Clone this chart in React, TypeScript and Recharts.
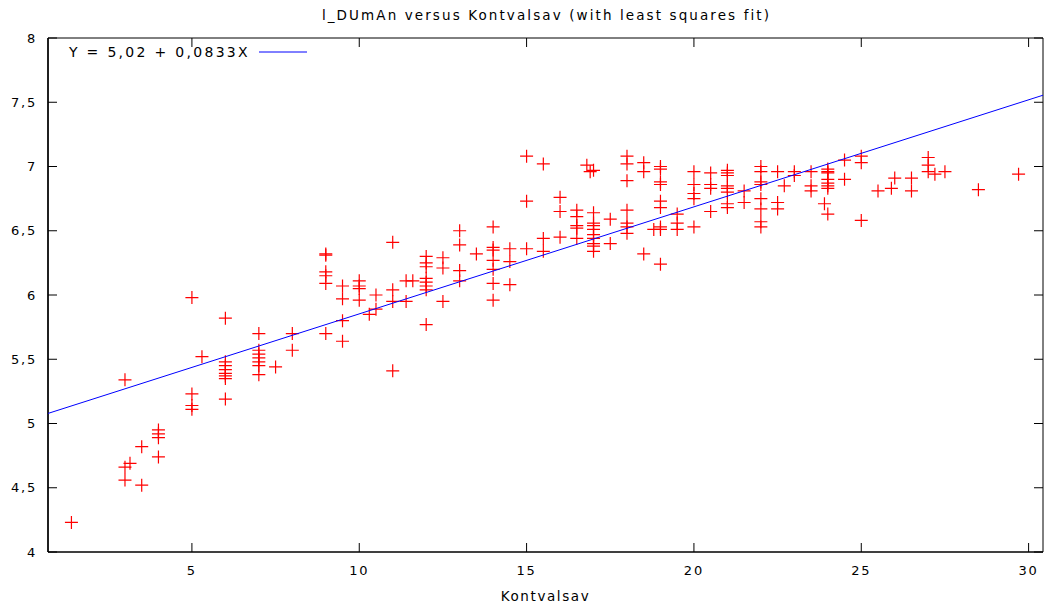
import React from 'react';
import { ScatterChart, Scatter, XAxis, YAxis, ReferenceArea } from 'recharts';

// Kontvalsav (x) and l_DUmAn (y), grouped by x column
const kontvalsav: number[] = [
  1.4,
  3, 3, 3, 3.15,
  3.5, 3.5,
  4, 4, 4, 4,
  5, 5, 5, 5, 5.3,
  6, 6, 6, 6, 6, 6, 6, 6,
  7, 7, 7, 7, 7, 7, 7, 7.5,
  8, 8,
  9, 9, 9, 9, 9, 9,
  9.5, 9.5, 9.5, 9.5,
  10, 10, 10, 10, 10.3, 10.5, 10.5,
  11, 11, 11, 11, 11.4, 11.4, 11.6,
  12, 12, 12, 12, 12, 12, 12, 12,
  12.5, 12.5, 12.5,
  13, 13, 13, 13, 13.5,
  14, 14, 14, 14, 14, 14, 14,
  14.5, 14.5, 14.5,
  15, 15, 15, 15.5, 15.5, 15.5,
  16, 16, 16,
  16.5, 16.5, 16.5, 16.5, 16.5, 16.8, 16.9,
  17, 17, 17, 17, 17, 17, 17, 17, 17, 17,
  17.5, 17.5,
  18, 18, 18, 18, 18, 18, 18,
  18.5, 18.5, 18.5, 18.8,
  19, 19, 19, 19, 19, 19, 19, 19, 19,
  19.5, 19.5, 19.5,
  20, 20, 20, 20, 20,
  20.5, 20.5, 20.5, 20.5,
  21, 21, 21, 21, 21, 21, 21, 21,
  21.5, 21.5,
  22, 22, 22, 22, 22, 22, 22, 22,
  22.5, 22.5, 22.5, 22.7,
  23, 23, 23.5, 23.5, 23.5, 23.9,
  24, 24, 24, 24, 24, 24, 24, 24,
  24.5, 24.5, 25, 25, 25,
  25.5, 25.9, 26, 26.5, 26.5,
  27, 27, 27, 27.2, 27.5,
  28.5, 29.7,
];

const lDUmAn: number[] = [
  4.23,
  5.34, 4.66, 4.56, 4.69,
  4.82, 4.52,
  4.95, 4.92, 4.89, 4.74,
  5.98, 5.23, 5.14, 5.11, 5.52,
  5.82, 5.48, 5.45, 5.42, 5.39, 5.37, 5.35, 5.19,
  5.70, 5.57, 5.54, 5.51, 5.48, 5.45, 5.38, 5.44,
  5.70, 5.57,
  6.31, 6.32, 6.18, 6.15, 6.09, 5.70,
  6.07, 5.97, 5.80, 5.64,
  6.11, 6.07, 6.05, 5.96, 5.85, 6.00, 5.89,
  6.41, 6.04, 5.95, 5.41, 6.11, 5.95, 6.11,
  6.30, 6.25, 6.22, 6.13, 6.10, 6.07, 6.04, 5.77,
  6.29, 6.21, 5.95,
  6.50, 6.39, 6.19, 6.11, 6.32,
  6.53, 6.37, 6.35, 6.27, 6.20, 6.09, 5.96,
  6.36, 6.26, 6.08,
  7.08, 6.73, 6.36, 7.02, 6.44, 6.34,
  6.76, 6.65, 6.45,
  6.66, 6.61, 6.54, 6.52, 6.44, 7.01, 6.96,
  6.97, 6.64, 6.56, 6.54, 6.51, 6.47, 6.44, 6.40, 6.38, 6.34,
  6.59, 6.40,
  7.08, 7.02, 6.89, 6.66, 6.56, 6.53, 6.48,
  7.03, 6.96, 6.32, 6.51,
  7.00, 6.98, 6.88, 6.86, 6.73, 6.68, 6.53, 6.51, 6.24,
  6.63, 6.56, 6.51,
  6.96, 6.86, 6.79, 6.75, 6.53,
  6.95, 6.86, 6.83, 6.65,
  6.97, 6.95, 6.93, 6.85, 6.83, 6.80, 6.71, 6.68,
  6.81, 6.72,
  7.00, 6.96, 6.88, 6.86, 6.75, 6.67, 6.57, 6.53,
  6.96, 6.72, 6.67, 6.85,
  6.96, 6.93, 6.96, 6.85, 6.81, 6.71,
  6.98, 6.96, 6.95, 6.90, 6.87, 6.85, 6.83, 6.63,
  7.05, 6.90, 7.08, 7.03, 6.58,
  6.81, 6.83, 6.91, 6.91, 6.81,
  7.07, 7.01, 6.96, 6.94, 6.96,
  6.82, 6.94,
];

const xTicks = [5, 10, 15, 20, 25, 30];
const yTicks = [4, 4.5, 5, 5.5, 6, 6.5, 7, 7.5, 8];
const xDomain: [number, number] = [0.7, 30.43];
const yDomain: [number, number] = [4, 8];
const fitIntercept = 5.02;
const fitSlope = 0.0833;

const titleText = 'l_DUmAn versus Kontvalsav (with least squares fit)';
const xLabelText = 'Kontvalsav';
const legendText = 'Y = 5,02 + 0,0833X';

const points = kontvalsav.map((x, i) => ({ x, y: lDUmAn[i] }));
const fitLine = xDomain.map((x) => ({ x, y: fitIntercept + fitSlope * x }));

// layout
const W = 1048;
const H = 608;
const PLOT_LEFT = 48;
const PLOT_RIGHT = 1043;
const PLOT_TOP = 38;
const PLOT_BOTTOM = 552;
const TICK_LEN = 9;

const FONT = '"DejaVu Sans", Verdana, sans-serif';
const comma = (v: number) => String(v).replace('.', ',');

const Cross = (props: any) => {
  const { cx, cy } = props;
  if (cx == null || cy == null) return <g />;
  return (
    <path
      d={`M${cx - 6.5},${cy}H${cx + 6.5}M${cx},${cy - 6.5}V${cy + 6.5}`}
      stroke="#ff0000"
      strokeWidth={1.2}
      fill="none"
    />
  );
};

const NoShape = () => <g />;

const XTick = (props: any) => {
  const { x, y, payload } = props;
  const cx = payload.coordinate;
  return (
    <g>
      <line x1={cx} x2={cx} y1={PLOT_BOTTOM} y2={PLOT_BOTTOM - TICK_LEN} stroke="#000" />
      <line x1={cx} x2={cx} y1={PLOT_TOP} y2={PLOT_TOP + TICK_LEN} stroke="#000" />
      <text x={x} y={y} dy="0.71em" textAnchor="middle" fontSize={13} fontFamily={FONT} letterSpacing={1.8} fill="#000">
        {comma(payload.value)}
      </text>
    </g>
  );
};

const YTick = (props: any) => {
  const { x, y, payload } = props;
  const cy = payload.coordinate;
  return (
    <g>
      <line x1={PLOT_LEFT} x2={PLOT_LEFT + TICK_LEN} y1={cy} y2={cy} stroke="#000" />
      <line x1={PLOT_RIGHT - TICK_LEN} x2={PLOT_RIGHT} y1={cy} y2={cy} stroke="#000" />
      <text x={x} y={y} dy="0.36em" textAnchor="end" fontSize={13} fontFamily={FONT} letterSpacing={1.8} fill="#000">
        {comma(payload.value)}
      </text>
    </g>
  );
};

export default function App() {
  return (
    <div style={{ position: 'absolute', left: 0, top: 0, width: W, height: H, background: '#fff', fontFamily: FONT }}>
      <div
        style={{
          position: 'absolute', left: 0, width: W, top: 7, textAlign: 'center',
          fontSize: 13.5, letterSpacing: 2.1, color: '#000', paddingLeft: 45, boxSizing: 'border-box', whiteSpace: 'pre',
        }}
      >
        {titleText}
      </div>
      <ScatterChart width={W} height={H} margin={{ top: PLOT_TOP, right: W - PLOT_RIGHT, bottom: 0, left: 0 }}>
        <XAxis
          dataKey="x"
          type="number"
          orientation="bottom"
          domain={xDomain}
          ticks={xTicks}
          allowDataOverflow
          height={H - PLOT_BOTTOM}
          tickSize={0}
          tickMargin={14}
          tick={<XTick />}
          tickLine={false}
          axisLine={{ stroke: '#000', strokeWidth: 1 }}
          label={{ value: xLabelText, position: 'insideBottom', offset: 7, style: { fontSize: 13.5, fill: '#000', fontFamily: FONT, letterSpacing: 1.6 } }}
        />
        <YAxis
          dataKey="y"
          type="number"
          orientation="left"
          domain={yDomain}
          ticks={yTicks}
          allowDataOverflow
          width={PLOT_LEFT}
          tickSize={0}
          tickMargin={11}
          tick={<YTick />}
          tickLine={false}
          axisLine={{ stroke: '#000', strokeWidth: 1.5 }}
        />
        <ReferenceArea
          x1={xDomain[0]}
          x2={xDomain[1]}
          y1={yDomain[0]}
          y2={yDomain[1]}
          fill="none"
          fillOpacity={0}
          stroke="#000"
          strokeWidth={1}
          ifOverflow="visible"
        />
        <Scatter
          data={points}
          shape={<Cross />}
          isAnimationActive={false}
        />
        <Scatter
          data={fitLine}
          line={{ stroke: '#0000ff', strokeWidth: 1 }}
          shape={<NoShape />}
          isAnimationActive={false}
        />
      </ScatterChart>
      <div style={{ position: 'absolute', left: 69, top: 44, fontSize: 14, lineHeight: '16px', letterSpacing: 2.3, color: '#000', whiteSpace: 'pre' }}>
        {legendText}
      </div>
      <svg width={60} height={16} style={{ position: 'absolute', left: 255, top: 44 }}>
        <line x1={4} x2={52} y1={8} y2={8} stroke="#0000ff" strokeWidth={1} />
      </svg>
    </div>
  );
}
